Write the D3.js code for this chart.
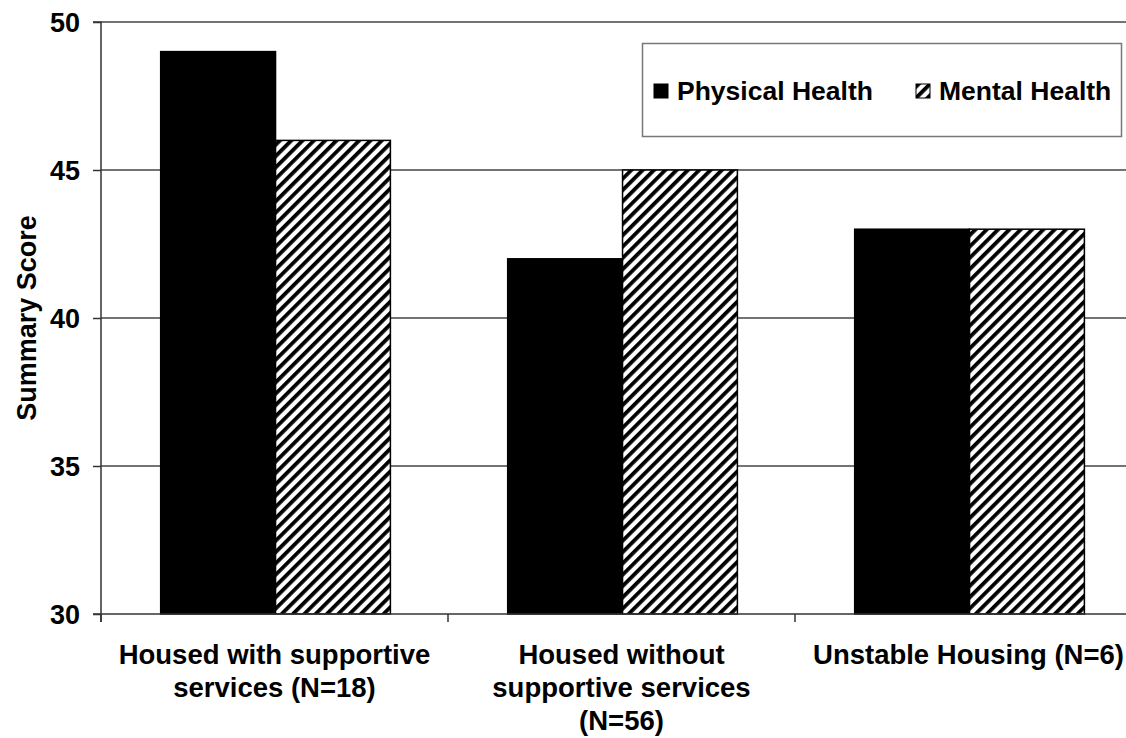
<!DOCTYPE html>
<html>
<head>
<meta charset="utf-8">
<script src="https://cdn.jsdelivr.net/npm/d3@7"></script>
<style>
  html, body { margin: 0; padding: 0; background: #fff; }
  svg { display: block; }
  text { font-family: "Liberation Sans", Arial, sans-serif; font-weight: bold; fill: #000; }
</style>
</head>
<body>
<svg id="chart" width="1126" height="738"></svg>
<script>
// Housing groups and their SF-12 style summary scores
const categories = [
  ["Housed with supportive", "services (N=18)"],
  ["Housed without", "supportive services", "(N=56)"],
  ["Unstable Housing (N=6)"]
];
const seriesNames = ["Physical Health", "Mental Health"];
const physicalHealth = [49, 42, 43];
const mentalHealth = [46, 45, 43];
const yTicks = [30, 35, 40, 45, 50];
const yTitle = "Summary Score";

const svg = d3.select("#chart");
const W = 1126, H = 738;
const plot = { left: 101, top: 22, bottom: 614, right: 1142 };

// Diagonal hatch fill for the mental health bars
const defs = svg.append("defs");
const hatch = defs.append("pattern")
  .attr("id", "hatch")
  .attr("patternUnits", "userSpaceOnUse")
  .attr("width", 8).attr("height", 8)
  .attr("patternTransform", "rotate(45)");
hatch.append("rect").attr("width", 8).attr("height", 8).attr("fill", "#fff");
hatch.append("rect").attr("x", 0).attr("width", 3.8).attr("height", 8).attr("fill", "#000");

const catKeys = categories.map((c, i) => i);
const x0 = d3.scaleBand().domain(catKeys).range([plot.left, plot.right]).padding(0);
const bw = x0.bandwidth();
const x1 = d3.scaleBand().domain(seriesNames).range([bw * 0.172, bw * 0.834]).padding(0);
const y = d3.scaleLinear().domain([30, 50]).range([plot.bottom, plot.top]);

// Horizontal gridlines
svg.append("g")
  .selectAll("line")
  .data(yTicks.filter(t => t > 30))
  .join("line")
  .attr("x1", plot.left).attr("x2", W)
  .attr("y1", d => y(d)).attr("y2", d => y(d))
  .attr("stroke", "#444").attr("stroke-width", 1.5);

// Bars
const rows = catKeys.map(i => [
  { key: seriesNames[0], value: physicalHealth[i] },
  { key: seriesNames[1], value: mentalHealth[i] }
]);
const groups = svg.append("g")
  .selectAll("g")
  .data(rows)
  .join("g")
  .attr("transform", (d, i) => `translate(${x0(i)},0)`);
groups.selectAll("rect")
  .data(d => d)
  .join("rect")
  .attr("x", d => x1(d.key))
  .attr("width", x1.bandwidth())
  .attr("y", d => y(d.value))
  .attr("height", d => y(30) - y(d.value))
  .attr("fill", d => d.key === seriesNames[0] ? "#000" : "url(#hatch)")
  .attr("stroke", "#000")
  .attr("stroke-width", 1.5);

// Y axis
const yAxis = d3.axisLeft(y).tickValues(yTicks).tickSize(8).tickPadding(13).tickFormat(d3.format("d"));
const gy = svg.append("g").attr("transform", `translate(${plot.left},0)`).call(yAxis);
gy.select(".domain").attr("stroke", "#333").attr("stroke-width", 1.5).attr("d", `M-8,${plot.top}H0V${plot.bottom + 8}`);
gy.selectAll(".tick line").attr("stroke", "#333").attr("stroke-width", 1.5);
gy.selectAll(".tick text").style("font-size", "27px").attr("dy", "0.36em");

// X axis line with category separators
const gx = svg.append("g");
gx.append("line")
  .attr("x1", plot.left - 8).attr("x2", W)
  .attr("y1", plot.bottom).attr("y2", plot.bottom)
  .attr("stroke", "#333").attr("stroke-width", 1.5);
gx.selectAll("line.sep")
  .data(catKeys.concat([catKeys.length]))
  .join("line")
  .attr("class", "sep")
  .attr("x1", i => plot.left + i * bw).attr("x2", i => plot.left + i * bw)
  .attr("y1", plot.bottom).attr("y2", plot.bottom + 8)
  .attr("stroke", "#333").attr("stroke-width", 1.5);

// Category labels
const labels = svg.append("g")
  .selectAll("text")
  .data(categories)
  .join("text")
  .attr("x", (d, i) => x0(i) + bw / 2)
  .attr("y", 664)
  .attr("text-anchor", "middle")
  .style("font-size", "27.5px");
labels.selectAll("tspan")
  .data(d => d)
  .join("tspan")
  .attr("x", function() { return d3.select(this.parentNode).attr("x"); })
  .attr("dy", (d, i) => i === 0 ? 0 : 33)
  .text(d => d);

// Y axis title
svg.append("text")
  .attr("transform", `translate(36,318) rotate(-90)`)
  .attr("text-anchor", "middle")
  .style("font-size", "27px")
  .text(yTitle);

// Legend
const lg = svg.append("g");
lg.append("rect")
  .attr("x", 642.5).attr("y", 43.5).attr("width", 479).attr("height", 93)
  .attr("fill", "#fff").attr("stroke", "#777").attr("stroke-width", 1.5);
const legendX = [654, 916];
const items = lg.selectAll("g.item")
  .data(seriesNames)
  .join("g")
  .attr("class", "item")
  .attr("transform", (d, i) => `translate(${legendX[i]},84)`);
items.append("rect")
  .attr("width", 14).attr("height", 14)
  .attr("fill", (d, i) => i === 0 ? "#000" : "url(#hatch)")
  .attr("stroke", "#000").attr("stroke-width", 1);
items.append("text")
  .attr("x", 23).attr("y", 16)
  .style("font-size", "26.5px")
  .text(d => d);
</script>
</body>
</html>
